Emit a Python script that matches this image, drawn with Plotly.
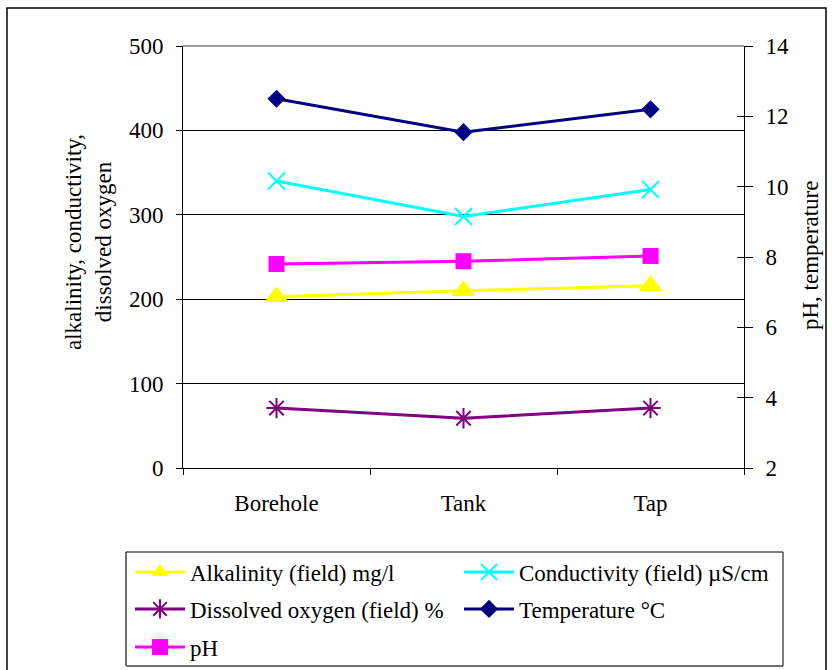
import plotly.graph_objects as go

# Sampling sites along the supply chain
sites = ["Borehole", "Tank", "Tap"]

# Left-axis series
alkalinity = [203, 210, 216]          # mg/l
conductivity = [340, 298, 330]        # uS/cm
dissolved_oxygen = [71, 59, 71]       # %

# Right-axis series
temperature = [12.5, 11.55, 12.2]     # deg C
ph = [7.8, 7.88, 8.03]

left_ticks = [0, 100, 200, 300, 400, 500]
right_ticks = [2, 4, 6, 8, 10, 12, 14]

W, H = 832, 670
ML, MR, MT, MB = 183, 88, 46, 202
PW, PH = W - ML - MR, H - MT - MB


def px(x):
    """pixel column -> paper x"""
    return (x - ML) / PW


def py(y):
    """pixel row -> paper y"""
    return (H - MB - y) / PH


def cx(x):
    """pixel column -> container x"""
    return x / W


def cy(y):
    """pixel row -> container y"""
    return 1 - y / H


FONT = "Liberation Serif, Times New Roman, serif"
FS = 23

fig = go.Figure()

fig.add_trace(go.Scatter(
    x=sites, y=alkalinity, name="Alkalinity (field) mg/l", yaxis="y",
    mode="lines+markers", line=dict(color="#FFFF00", width=3),
    marker=dict(symbol="triangle-up", size=21, color="#FFFF00"),
    legend="legend"))
fig.add_trace(go.Scatter(
    x=sites, y=conductivity, name="Conductivity (field) \u00b5S/cm", yaxis="y",
    mode="lines+markers", line=dict(color="#00FFFF", width=3),
    marker=dict(symbol="x-thin-open", size=17, color="#00FFFF",
                line=dict(color="#00FFFF", width=2)),
    legend="legend2"))
fig.add_trace(go.Scatter(
    x=sites, y=dissolved_oxygen, name="Dissolved oxygen (field) %", yaxis="y",
    mode="lines+markers", line=dict(color="#800080", width=3),
    marker=dict(symbol="asterisk-open", size=17, color="#800080",
                line=dict(color="#800080", width=2)),
    legend="legend3"))
fig.add_trace(go.Scatter(
    x=sites, y=temperature, name="Temperature \u00b0C", yaxis="y2",
    mode="lines+markers", line=dict(color="#000080", width=3),
    marker=dict(symbol="diamond", size=14, color="#000080"),
    legend="legend4"))
fig.add_trace(go.Scatter(
    x=sites, y=ph, name="pH", yaxis="y2",
    mode="lines+markers", line=dict(color="#FF00FF", width=3),
    marker=dict(symbol="square", size=16, color="#FF00FF"),
    legend="legend5"))

# invisible trace that carries the inner half of the right-axis cross ticks
fig.add_trace(go.Scatter(x=sites, y=[None] * 3, yaxis="y3",
                         showlegend=False, hoverinfo="skip"))

tickfont = dict(family=FONT, size=FS, color="black")

legend_common = dict(orientation="h", xanchor="left", yanchor="middle",
                     xref="container", yref="container",
                     font=dict(family=FONT, size=FS, color="black"),
                     bgcolor="rgba(0,0,0,0)", borderwidth=0, itemwidth=50,
                     itemclick=False, itemdoubleclick=False)

# legend entries laid out two per row: (column x, row y) in pixels
COL1, COL2 = 130, 459
ROW1, ROW2, ROW3 = 572, 609, 647

fig.update_layout(
    width=W, height=H,
    margin=dict(l=ML, r=MR, t=MT, b=MB, pad=0, autoexpand=False),
    paper_bgcolor="white", plot_bgcolor="white",
    font=dict(family=FONT, size=FS, color="black"),
    hovermode=False,
    xaxis=dict(type="category", categoryorder="array", categoryarray=sites,
               range=[-0.5, 2.5], tickson="boundaries",
               ticks="outside", ticklen=6, tickcolor="black", tickwidth=1,
               showline=True, linecolor="black", linewidth=1,
               showgrid=False, zeroline=False, tickfont=tickfont,
               ticklabelstandoff=14),
    yaxis=dict(range=[0, 500], tickvals=left_ticks,
               ticks="outside", ticklen=6, tickcolor="black", tickwidth=1,
               showline=True, linecolor="black", linewidth=1,
               showgrid=True, gridcolor="black", gridwidth=1,
               zeroline=False, tickfont=tickfont, ticklabelstandoff=8),
    yaxis2=dict(range=[2, 14], tickvals=right_ticks, overlaying="y",
                side="right", anchor="x",
                ticks="outside", ticklen=8, tickcolor="black", tickwidth=1,
                showline=True, linecolor="black", linewidth=1,
                showgrid=False, zeroline=False, tickfont=tickfont,
                ticklabelstandoff=8),
    yaxis3=dict(range=[2, 14], tickvals=right_ticks, overlaying="y",
                side="right", anchor="x",
                ticks="inside", ticklen=7, tickcolor="black", tickwidth=1,
                showline=False, showgrid=False, zeroline=False,
                showticklabels=False),
    legend=dict(legend_common, x=cx(COL1), y=cy(ROW1)),
    legend2=dict(legend_common, x=cx(COL2), y=cy(ROW1)),
    legend3=dict(legend_common, x=cx(COL1), y=cy(ROW2)),
    legend4=dict(legend_common, x=cx(COL2), y=cy(ROW2)),
    legend5=dict(legend_common, x=cx(COL1), y=cy(ROW3)),
)

# axis titles
fig.add_annotation(text="alkalinity, conductivity,<br>dissolved oxygen",
                   textangle=-90, xref="paper", yref="paper",
                   xanchor="center", yanchor="middle",
                   x=px(88), y=py(242), showarrow=False,
                   font=dict(family=FONT, size=FS, color="black"))
fig.add_annotation(text="pH, temperature", textangle=-90,
                   xref="paper", yref="paper", xanchor="center", yanchor="middle",
                   x=px(810), y=py(256), showarrow=False,
                   font=dict(family=FONT, size=FS, color="black"))

# plot-area top edge (grey)
fig.add_shape(type="line", xref="paper", yref="paper", x0=0, x1=1, y0=1, y1=1,
              line=dict(color="#808080", width=1.5), layer="above")

# legend frame: grey shadow edges, black top/right edges
lx0, lx1, ly0, ly1 = px(126), px(783), py(666), py(552)
fig.add_shape(type="line", xref="paper", yref="paper", x0=lx0, x1=lx1, y0=ly0, y1=ly0,
              line=dict(color="#707070", width=2))
fig.add_shape(type="line", xref="paper", yref="paper", x0=lx0, x1=lx0, y0=ly0, y1=ly1,
              line=dict(color="#707070", width=2))
fig.add_shape(type="line", xref="paper", yref="paper", x0=lx0, x1=lx1, y0=ly1, y1=ly1,
              line=dict(color="black", width=1))
fig.add_shape(type="line", xref="paper", yref="paper", x0=lx1, x1=lx1, y0=ly0, y1=ly1,
              line=dict(color="black", width=1))

# outer chart frame
fig.add_shape(type="rect", xref="paper", yref="paper",
              x0=px(7), x1=px(826), y0=py(690), y1=py(8),
              line=dict(color="black", width=1.5), fillcolor="rgba(0,0,0,0)")

fig.write_html("out.html")
